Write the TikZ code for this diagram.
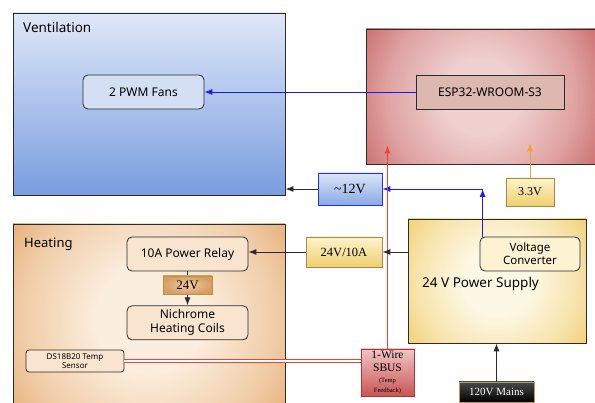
\documentclass[tikz,border=0pt]{standalone}
\usepackage{fontspec}
\setmainfont{Noto Sans}
\newfontfamily\tagfont{Liberation Serif}
\usetikzlibrary{arrows.meta,positioning,calc}
\definecolor{ink}{HTML}{2B2B2B}
\definecolor{ventlight}{HTML}{DFE7F7}
\definecolor{ventdark}{HTML}{7A9DE0}
\definecolor{mculight}{HTML}{F0CFCF}
\definecolor{mcudark}{HTML}{CB6C6C}
\definecolor{heatlight}{HTML}{FCEEDE}
\definecolor{heatdark}{HTML}{E2A466}
\definecolor{heatfill}{HTML}{F9E5CF}
\definecolor{psulight}{HTML}{FDF8E6}
\definecolor{psudark}{HTML}{F0CA66}
\definecolor{pwmblue}{HTML}{1A1AF0}
\definecolor{busred}{HTML}{EE4433}
\definecolor{logicorange}{HTML}{F2A040}
\definecolor{tagedge}{HTML}{A68A4A}
% soft round glows, light for longer before falling off to the rim colour
\pgfdeclareradialshading{mcuglow}{\pgfpoint{0bp}{0bp}}{color(0bp)=(mculight); color(7bp)=(mculight); color(17bp)=(mculight!55!mcudark); color(25bp)=(mcudark); color(50bp)=(mcudark)}
\pgfdeclareradialshading{heatglow}{\pgfpoint{0bp}{0bp}}{color(0bp)=(heatlight); color(7bp)=(heatlight); color(17bp)=(heatlight!55!heatdark); color(25bp)=(heatdark); color(50bp)=(heatdark)}
\pgfdeclareradialshading{psuglow}{\pgfpoint{0bp}{0bp}}{color(0bp)=(psulight); color(7bp)=(psulight); color(17bp)=(psulight!55!psudark); color(25bp)=(psudark); color(50bp)=(psudark)}

\begin{document}
\begin{tikzpicture}[x=1pt, y=-1pt,
  panel/.style={draw=ink, line width=0.9pt},
  % round glow from the middle of a panel, rim colour beyond radius #3
  glow/.style n args={3}{fill=#2, path picture={\shade[shading=#1] (path picture bounding box.center) circle (#3);}},
  paneltitle/.style={anchor=base west, inner sep=0pt, font=\fontsize{13.5}{16}\selectfont},
  block/.style={draw=ink, line width=0.8pt, rounded corners=5pt, align=center, font=\fontsize{12}{14}\selectfont},
  heatblock/.style={block, fill=heatfill},
  tag/.style={draw=tagedge, line width=0.8pt, align=center, inner sep=1pt, font=\tagfont\fontsize{12.5}{14}\selectfont},
  wire/.style={-{Latex[length=8pt,width=6pt]}, line width=0.9pt, draw=ink},
  pwm/.style={wire, draw=pwmblue},
  bus/.style={wire, draw=busred, line width=1.1pt},
  logic/.style={wire, draw=logicorange}
]
\clip[use as bounding box] (0,0) rectangle (595,403);

% panels
\node[panel, top color=ventlight, bottom color=ventdark, minimum width=272pt, minimum height=182pt] (vent) at (149,104) {};
\node[paneltitle] (venttitle) at (23,33) {Ventilation};
\node[panel, glow={mcuglow}{mcudark}{138pt}, minimum width=230pt, minimum height=135pt] (mcu) at (481,96.5) {};
\node[panel, glow={heatglow}{heatdark}{186pt}, minimum width=272pt, minimum height=190pt] (heat) at (149,319) {};
\node[paneltitle, font=\fontsize{13}{16}\selectfont] (heattitle) at (24,248) {Heating};
\node[panel, glow={psuglow}{psudark}{118pt}, minimum width=178pt, minimum height=124pt] (psu) at (497,281) {};
\node[paneltitle] (psutitle) at (422,288) {24 V Power Supply};

% blocks
\node[block, fill={rgb,255:red,211;green,223;blue,242}, minimum width=121pt, minimum height=34pt] (fans) at (143.5,92) {2 PWM Fans};
\node[block, rounded corners=0pt, fill={rgb,255:red,221;green,184;blue,176}, minimum width=148pt, minimum height=34pt] (esp) at (490,92) {ESP32-WROOM-S3};
\node[block, fill={rgb,255:red,253;green,242;blue,210}, minimum width=100pt, minimum height=34pt, inner sep=1pt, font=\fontsize{11.5}{13}\selectfont] (conv) at (530,254) {Voltage\\Converter};
\node[heatblock, minimum width=121pt, minimum height=34pt] (relay) at (187.5,254) {10A Power Relay};
\node[heatblock, minimum width=121pt, minimum height=34pt, inner sep=1pt, below=34pt of relay] (coil) {Nichrome\\Heating Coils};
\node[heatblock, rounded corners=3pt, minimum width=98pt, minimum height=22pt, inner sep=1pt, font=\fontsize{8}{9.5}\selectfont] (sensor) at (75,361) {DS18B20 Temp\\Sensor};

% voltage tags
\node[tag, draw={rgb,255:red,34;green,51;blue,238}, top color={rgb,255:red,220;green,229;blue,248}, bottom color={rgb,255:red,139;green,169;blue,229}, minimum width=64pt, minimum height=32pt, font=\tagfont\fontsize{14}{16}\selectfont] (v12) at (350,189) {\textasciitilde12V};
\node[tag, top color={rgb,255:red,253;green,244;blue,205}, bottom color={rgb,255:red,239;green,207;blue,112}, minimum width=48pt, minimum height=28pt, font=\tagfont\fontsize{12}{14}\selectfont] (v33) at (530,192) {3.3V};
\node[tag, top color={rgb,255:red,253;green,244;blue,205}, bottom color={rgb,255:red,239;green,207;blue,112}, minimum width=76pt, minimum height=30pt] (v24) at (344,252) {24V/10A};
\node[tag, draw={rgb,255:red,168;green,56;blue,56}, top color={rgb,255:red,242;green,196;blue,196}, bottom color={rgb,255:red,201;green,85;blue,85}, minimum width=53pt, minimum height=47pt, font=\tagfont\fontsize{11.5}{13}\selectfont] (sbus) at (387.5,372.5) {1-Wire\\SBUS\\[-2pt]{\fontsize{6.5}{7.5}\selectfont (Temp}\\[-3pt]{\fontsize{6.5}{7.5}\selectfont Feedback)}};
\node[tag, draw={rgb,255:red,184;green,154;blue,90}, top color={rgb,255:red,74;green,74;blue,74}, bottom color=black, text=white, minimum width=75pt, minimum height=20pt, font=\tagfont\fontsize{11}{13}\selectfont] (mains) at (496.5,392) {120V Mains};

% free ends and bends
\coordinate (busin) at ($(sbus.north |- mcu.south)+(0,-19)$);
\coordinate (logicin) at ($(v33.north |- mcu.south)+(0,-21)$);
\coordinate (convtap) at ($(conv.north west)+(3,0)$);
\coordinate (pwrbend) at (convtap |- v12.east);

% connections
\draw[pwm] (esp.west) -- (fans.east);
\draw[wire] (v12.west) -- (v12.west -| vent.east);
\draw[pwm] (convtap) -- (pwrbend);
\draw[pwm] (pwrbend) -- (v12.east);
\draw[logic] (v33.north) -- (logicin);
\draw[bus] (sbus.north) -- (busin);
\draw[wire] (psu.west |- v24.east) -- (v24.east);
\draw[wire] (v24.west) -- (v24.west -| relay.east);
\draw[wire] (mains.north) -- (mains.north |- psu.south);
\draw[busred, line width=0.8pt, double=white, double distance=2.6pt] (sensor.east) -- (sensor.east -| sbus.west);
\draw[wire] (relay.south) -- (coil.north);
\node[tag, draw={rgb,255:red,184;green,148;blue,60}, inner color={rgb,255:red,240;green,203;blue,164}, outer color={rgb,255:red,214;green,158;blue,100}, minimum width=49pt, minimum height=18pt, font=\tagfont\fontsize{13}{14}\selectfont] (coilv) at (187.5,285) {24V};
\end{tikzpicture}
\end{document}
